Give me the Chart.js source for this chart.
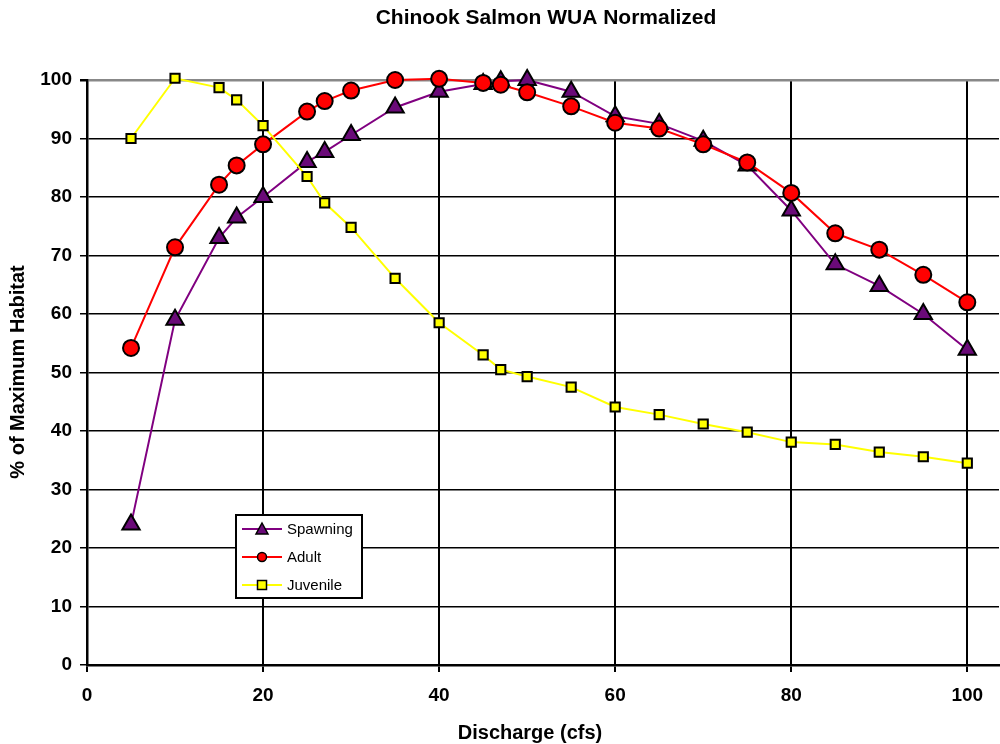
<!DOCTYPE html>
<html>
<head>
<meta charset="utf-8">
<script src="https://cdn.jsdelivr.net/npm/chart.js@4/dist/chart.umd.min.js"></script>
<style>
  html, body { margin: 0; padding: 0; background: #fff; overflow: hidden; }
  #wrap { width: 1000px; height: 744px; overflow: hidden; }
</style>
</head>
<body>
<div id="wrap"><canvas id="wua" width="1011" height="744"></canvas></div>
<script>
// discharge (cfs) and % of max habitat per life stage
const discharge = [5, 10, 15, 17, 20, 25, 27, 30, 35, 40, 45, 47, 50, 55, 60, 65, 70, 75, 80, 85, 90, 95, 100];
const spawning = [24, 59, 73, 76.5, 80, 86, 87.7, 90.6, 95.3, 98, 99.3, 99.8, 100, 98, 93.8, 92.5, 89.6, 85.4, 77.7, 68.5, 64.8, 60, 53.9];
const adult = [54.2, 71.4, 82.1, 85.4, 89, 94.6, 96.4, 98.2, 100, 100.2, 99.5, 99.2, 97.9, 95.5, 92.7, 91.7, 89, 85.9, 80.7, 73.8, 71, 66.7, 62];
const juvenile = [90, 100.3, 98.7, 96.6, 92.2, 83.5, 79, 74.8, 66.1, 58.5, 53, 50.5, 49.3, 47.5, 44.1, 42.8, 41.2, 39.8, 38.1, 37.7, 36.4, 35.6, 34.5];
const xTicks = [0, 20, 40, 60, 80, 100];

const FONT = 'Liberation Sans, Arial, sans-serif';
const PURPLE = '#800080', PURPLE_FILL = '#6a0a78';

function pts(ys) {
  return discharge.map((x, i) => ({ x: x, y: ys[i] }));
}

// titles + legend box drawn by hand
const extras = {
  id: 'extras',
  afterDraw(chart) {
    const c = chart.ctx;
    c.save();
    c.fillStyle = '#000';
    c.textAlign = 'center';
    c.textBaseline = 'middle';
    c.font = 'bold 21px ' + FONT;
    c.fillText('Chinook Salmon WUA Normalized', 546, 18);
    c.font = 'bold 20px ' + FONT;
    c.fillText('Discharge (cfs)', 530, 733);
    c.save();
    c.translate(18, 372);
    c.rotate(-Math.PI / 2);
    c.fillText('% of Maximum Habitat', 0, 0);
    c.restore();

    // legend
    c.fillStyle = '#fff';
    c.fillRect(236, 515, 126, 83);
    c.lineWidth = 2;
    c.strokeStyle = '#000';
    c.strokeRect(236, 515, 126, 83);
    const rows = [
      { label: 'Spawning', line: PURPLE, fill: PURPLE_FILL, shape: 'tri', y: 529 },
      { label: 'Adult', line: '#ff0000', fill: '#ff0000', shape: 'circ', y: 557 },
      { label: 'Juvenile', line: '#ffff00', fill: '#ffff00', shape: 'sq', y: 585 }
    ];
    rows.forEach(r => {
      c.strokeStyle = r.line;
      c.lineWidth = 2;
      c.beginPath();
      c.moveTo(242, r.y);
      c.lineTo(282, r.y);
      c.stroke();
      c.fillStyle = r.fill;
      c.strokeStyle = '#000';
      c.lineWidth = 1.5;
      c.beginPath();
      if (r.shape === 'tri') {
        c.moveTo(262, r.y - 6);
        c.lineTo(268, r.y + 5);
        c.lineTo(256, r.y + 5);
        c.closePath();
      } else if (r.shape === 'circ') {
        c.arc(262, r.y, 4.5, 0, Math.PI * 2);
      } else {
        c.rect(257.5, r.y - 4.5, 9, 9);
      }
      c.fill();
      c.stroke();
      c.fillStyle = '#000';
      c.textAlign = 'left';
      c.font = '15px ' + FONT;
      c.fillText(r.label, 287, r.y + 1);
    });
    c.restore();
  }
};

new Chart(document.getElementById('wua'), {
  type: 'line',
  data: {
    datasets: [
      {
        label: 'Spawning',
        data: pts(spawning),
        borderColor: PURPLE,
        borderWidth: 2,
        pointStyle: 'triangle',
        pointRadius: 10,
        pointBackgroundColor: PURPLE_FILL,
        pointBorderColor: '#000',
        pointBorderWidth: 2,
        order: 3,
        clip: false
      },
      {
        label: 'Adult',
        data: pts(adult),
        borderColor: '#ff0000',
        borderWidth: 2,
        pointStyle: 'circle',
        pointRadius: 8,
        pointBackgroundColor: '#ff0000',
        pointBorderColor: '#000',
        pointBorderWidth: 2,
        order: 2,
        clip: false
      },
      {
        label: 'Juvenile',
        data: pts(juvenile),
        borderColor: '#ffff00',
        borderWidth: 2,
        pointStyle: 'rect',
        pointRadius: 6.5,
        pointBackgroundColor: '#ffff00',
        pointBorderColor: '#000',
        pointBorderWidth: 2,
        order: 1,
        clip: false
      }
    ]
  },
  options: {
    responsive: false,
    animation: false,
    layout: { padding: { top: 80, right: 0, left: 0, bottom: 0 } },
    plugins: {
      legend: { display: false },
      title: { display: false },
      tooltip: { enabled: false }
    },
    scales: {
      x: {
        type: 'linear',
        min: 0,
        max: 103.6,
        afterBuildTicks: s => { s.ticks = xTicks.map(v => ({ value: v })); },
        afterFit: s => { s.height = 79; },
        ticks: {
          color: '#000',
          padding: 12,
          maxRotation: 0,
          font: { family: FONT, size: 19, weight: 'bold' }
        },
        grid: { color: '#000', lineWidth: 2, tickLength: 7, tickColor: '#000' },
        border: { color: '#000', width: 2.5 }
      },
      y: {
        min: 0,
        max: 100,
        afterFit: s => { s.width = 87; },
        ticks: {
          stepSize: 10,
          color: '#000',
          padding: 8,
          font: { family: FONT, size: 19, weight: 'bold' }
        },
        grid: {
          color: c => (c.tick && c.tick.value === 100 ? '#888' : '#000'),
          lineWidth: c => (c.tick && c.tick.value === 100 ? 2.5 : 1.5),
          tickLength: 7,
          tickColor: '#000'
        },
        border: { color: '#000', width: 2.5 }
      }
    }
  },
  plugins: [extras]
});
</script>
</body>
</html>
